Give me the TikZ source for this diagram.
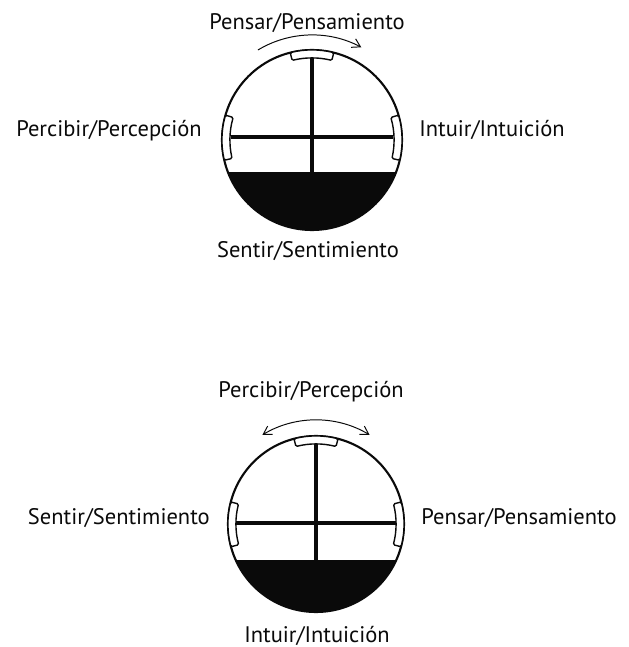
\documentclass[tikz,border=0pt]{standalone}
\usepackage{fontspec}
\setmainfont{PT Sans}
\usetikzlibrary{arrows.meta,positioning,calc}
\definecolor{inkblack}{RGB}{10,10,10}

\begin{document}
\begin{tikzpicture}[x=0.025cm,y=0.025cm,
    lbl/.style={font=\fontsize{16}{19}\selectfont,text=inkblack,inner sep=0pt},
    rim/.style={draw=inkblack,line width=1.5pt},
    bar/.style={draw=inkblack,line width=2.8pt},
    tab/.style={draw=inkblack,fill=white,line width=1pt,rounded corners=1pt},
    arr/.style={draw=inkblack,line width=0.7pt}
  ]
    \useasboundingbox (0,0) rectangle (629,647);
    % upper dial
    \coordinate (c1) at (312,507);
    \begin{scope}
      \clip (c1) circle (90);
      \fill[inkblack] (200,380) rectangle (420,475);
    \end{scope}
    \draw[rim] (c1) circle (90);
    \draw[bar] (312,475) -- (312,590);
    \draw[bar] (231,510) -- (393,510);
    \filldraw[tab] ([shift={(76:90)}]c1) arc[start angle=76,end angle=104,radius=90]
      -- ([shift={(104:82)}]c1) arc[start angle=104,end angle=76,radius=82] -- cycle;
    \filldraw[tab] ([shift={(164:90)}]c1) arc[start angle=164,end angle=193,radius=90]
      -- ([shift={(193:82)}]c1) arc[start angle=193,end angle=164,radius=82] -- cycle;
    \filldraw[tab] ([shift={(16:90)}]c1) arc[start angle=16,end angle=-13,radius=90]
      -- ([shift={(-13:82)}]c1) arc[start angle=-13,end angle=16,radius=82] -- cycle;
    \draw[arr,-{Straight Barb[length=2mm,width=2.4mm]}]
      ([shift={(121:105)}]c1) arc[start angle=121,end angle=62,radius=105];
    \node[lbl,anchor=base] (pensar1) at (307,617) {Pensar/Pensamiento};
    \node[lbl,anchor=base] (sentir1) at (308,389) {Sentir/Sentimiento};
    \node[lbl,anchor=base east] (percibir1) at (202,510) {Percibir/Percepción};
    \node[lbl,anchor=base west] (intuir1) at (419,510) {Intuir/Intuición};
    % lower dial
    \coordinate (c2) at (316,123);
    \begin{scope}
      \clip (c2) circle (88);
      \fill[inkblack] (200,0) rectangle (420,87);
    \end{scope}
    \draw[rim] (c2) circle (88);
    \draw[bar] (316,87) -- (316,204);
    \draw[bar] (235,124) -- (397,124);
    \filldraw[tab] ([shift={(75.5:88)}]c2) arc[start angle=75.5,end angle=104.5,radius=88]
      -- ([shift={(104.5:80)}]c2) arc[start angle=104.5,end angle=75.5,radius=80] -- cycle;
    \filldraw[tab] ([shift={(165.5:88)}]c2) arc[start angle=165.5,end angle=195,radius=88]
      -- ([shift={(195:80)}]c2) arc[start angle=195,end angle=165.5,radius=80] -- cycle;
    \filldraw[tab] ([shift={(14.5:88)}]c2) arc[start angle=14.5,end angle=-15,radius=88]
      -- ([shift={(-15:80)}]c2) arc[start angle=-15,end angle=14.5,radius=80] -- cycle;
    \draw[arr,{Straight Barb[length=2mm,width=2.4mm]}-{Straight Barb[length=2mm,width=2.4mm]}]
      ([shift={(121:104)}]c2) arc[start angle=121,end angle=59,radius=104];
    \node[lbl,anchor=base] (percibir2) at (311,249) {Percibir/Percepción};
    \node[lbl,anchor=base] (intuir2) at (317,5) {Intuir/Intuición};
    \node[lbl,anchor=base east] (sentir2) at (210,122) {Sentir/Sentimiento};
    \node[lbl,anchor=base west] (pensar2) at (421,122) {Pensar/Pensamiento};
  \end{tikzpicture}
\end{document}
